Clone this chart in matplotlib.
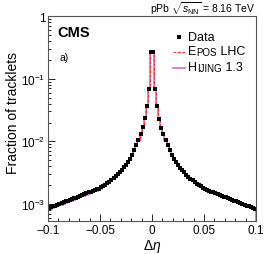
import numpy as np
import matplotlib
matplotlib.use("Agg")
import matplotlib.pyplot as plt
from matplotlib.lines import Line2D

plt.rcParams['font.family'] = ['Liberation Sans', 'DejaVu Sans']
plt.rcParams['mathtext.fontset'] = 'custom'
plt.rcParams['mathtext.rm'] = 'Liberation Sans'
plt.rcParams['mathtext.it'] = 'Liberation Sans:italic'
plt.rcParams['mathtext.bf'] = 'Liberation Sans:bold'

# bin edges: 100 bins of 0.002 from -0.1 to 0.1
edges = np.linspace(-0.1, 0.1, 101)
centers = 0.5 * (edges[:-1] + edges[1:])

# data, |d eta| ascending (0.001 ... 0.099), negative and positive side
data_neg = [0.268, 0.0694, 0.0373, 0.0232, 0.0167, 0.0133, 0.0107, 0.00877, 0.00728, 0.00615,
            0.00532, 0.00473, 0.00426, 0.00385, 0.00352, 0.00323, 0.00299, 0.00277, 0.00258, 0.00242,
            0.00228, 0.00215, 0.00204, 0.00194, 0.00185, 0.00177, 0.00171, 0.00166, 0.00161, 0.00157,
            0.00153, 0.00148, 0.00144, 0.00140, 0.00135, 0.00131, 0.00127, 0.00123, 0.00120, 0.00116,
            0.00113, 0.00110, 0.00107, 0.00103, 0.00100, 0.00097, 0.000945, 0.000918, 0.000892, 0.000866]
data_pos = [0.268, 0.0694, 0.0372, 0.0231, 0.0166, 0.0132, 0.0106, 0.00872, 0.00723, 0.00610,
            0.00528, 0.00469, 0.00422, 0.00381, 0.00348, 0.00319, 0.00295, 0.00274, 0.00255, 0.00239,
            0.00225, 0.00212, 0.00201, 0.00191, 0.00182, 0.00174, 0.00168, 0.00163, 0.00158, 0.00154,
            0.00150, 0.00145, 0.00141, 0.00137, 0.00132, 0.00128, 0.00124, 0.00120, 0.00117, 0.00113,
            0.00110, 0.00107, 0.00104, 0.00100, 0.00097, 0.00094, 0.00092, 0.00089, 0.00087, 0.00085]

# models (symmetric), |d eta| ascending
epos_half = [0.265, 0.070, 0.0375, 0.0232, 0.0167, 0.0133, 0.0107, 0.00876, 0.00726, 0.00613,
             0.00530, 0.00471, 0.00424, 0.00383, 0.00350, 0.00321, 0.00297, 0.00275, 0.00256, 0.00240,
             0.00226, 0.00213, 0.00202, 0.00192, 0.00183, 0.00175, 0.00169, 0.00164, 0.00159, 0.00155,
             0.00151, 0.00146, 0.00142, 0.00138, 0.00133, 0.00129, 0.00125, 0.00121, 0.00118, 0.00114,
             0.00111, 0.00108, 0.00105, 0.00101, 0.00098, 0.00095, 0.00093, 0.00090, 0.00088, 0.00085]
hijing_half = [0.262, 0.071, 0.0378, 0.0233, 0.0166, 0.0132, 0.0106, 0.00868, 0.00718, 0.00603,
               0.00520, 0.00460, 0.00413, 0.00373, 0.00340, 0.00312, 0.00288, 0.00267, 0.00248, 0.00233,
               0.00219, 0.00206, 0.00195, 0.00186, 0.00177, 0.00170, 0.00164, 0.00159, 0.00154, 0.00150,
               0.00146, 0.00141, 0.00137, 0.00133, 0.00128, 0.00124, 0.00121, 0.00117, 0.00114, 0.00110,
               0.00107, 0.00104, 0.00101, 0.00098, 0.00095, 0.00092, 0.00090, 0.00087, 0.00085, 0.00082]

data = np.array(data_neg[::-1] + data_pos)
epos = np.array(epos_half[::-1] + epos_half)
hijing = np.array(hijing_half[::-1] + hijing_half)

fig = plt.figure(figsize=(2.66, 2.55), dpi=100)
ax = fig.add_axes([0.1805, 0.1294, 0.7819, 0.8039])

hij_col = '#cc79d6'
epos_col = '#ff2a2a'
ax.stairs(hijing, edges, color=hij_col, lw=1.3)
ax.stairs(epos, edges, color=epos_col, lw=0.8, ls=(0, (2.5, 1.5)))
ax.plot(centers, data, 's', color='black', ms=3.0, mew=0)

ax.set_yscale('log')
ax.set_xlim(-0.1, 0.1)
ax.set_ylim(10**-3.27, 1)

ax.set_xticks([-0.1, -0.05, 0, 0.05, 0.1])
ax.set_xticklabels(['\u22120.1', '\u22120.05', '0', '0.05', '0.1'])
ax.set_xticks(np.arange(-0.1, 0.1001, 0.01), minor=True)
ax.set_yticks([1e-3, 1e-2, 1e-1, 1])
ax.set_yticklabels([r'$10^{-3}$', r'$10^{-2}$', r'$10^{-1}$', '1'])
ax.tick_params(which='both', direction='in', top=False, right=False, labelsize=8.5, pad=2)
ax.tick_params(which='major', length=5, width=0.6)
ax.tick_params(which='minor', length=2.5, width=0.6)
for s in ax.spines.values():
    s.set_linewidth(0.8)
    s.set_color('#555555')

ax.set_xlabel(r'$\Delta\eta$', fontsize=10, labelpad=1)
ax.set_ylabel('Fraction of tracklets', fontsize=10)
ax.yaxis.set_label_coords(-0.135, 0.53)

fig.text(0.962, 0.948, r'pPb $\sqrt{s_\mathrm{NN}}$ = 8.16 TeV', ha='right', va='baseline', fontsize=7.5)
ax.text(0.043, 0.902, 'CMS', transform=ax.transAxes, fontsize=10.5, fontweight='bold', va='baseline')
ax.text(0.057, 0.785, 'a)', transform=ax.transAxes, fontsize=7.5, va='baseline')

# legend drawn by hand (small caps model names)
ax.add_line(Line2D([0.630], [0.898], marker='s', color='black', ms=3.0, mew=0, transform=ax.transAxes))
ax.add_line(Line2D([0.601, 0.659], [0.824, 0.824], color=epos_col, lw=0.8, ls=(0, (2.5, 1.5)), transform=ax.transAxes))
ax.add_line(Line2D([0.601, 0.659], [0.746, 0.746], color=hij_col, lw=1.3, transform=ax.transAxes))

big, small = 9, 7
ax.text(0.673, 0.898, 'Data', transform=ax.transAxes, fontsize=big, va='center')
t = ax.text(0.673, 0.800, 'E', transform=ax.transAxes, fontsize=big, va='bottom')
t = ax.annotate('POS', xy=(1, 0), xycoords=t, fontsize=small, va='bottom')
ax.annotate(' LHC', xy=(1, 0), xycoords=t, fontsize=big, va='bottom')
t = ax.text(0.673, 0.722, 'H', transform=ax.transAxes, fontsize=big, va='bottom')
t = ax.annotate('IJING', xy=(1, 0), xycoords=t, fontsize=small, va='bottom')
ax.annotate(' 1.3', xy=(1, 0), xycoords=t, fontsize=big, va='bottom')

fig.savefig('out.png', dpi=100)
